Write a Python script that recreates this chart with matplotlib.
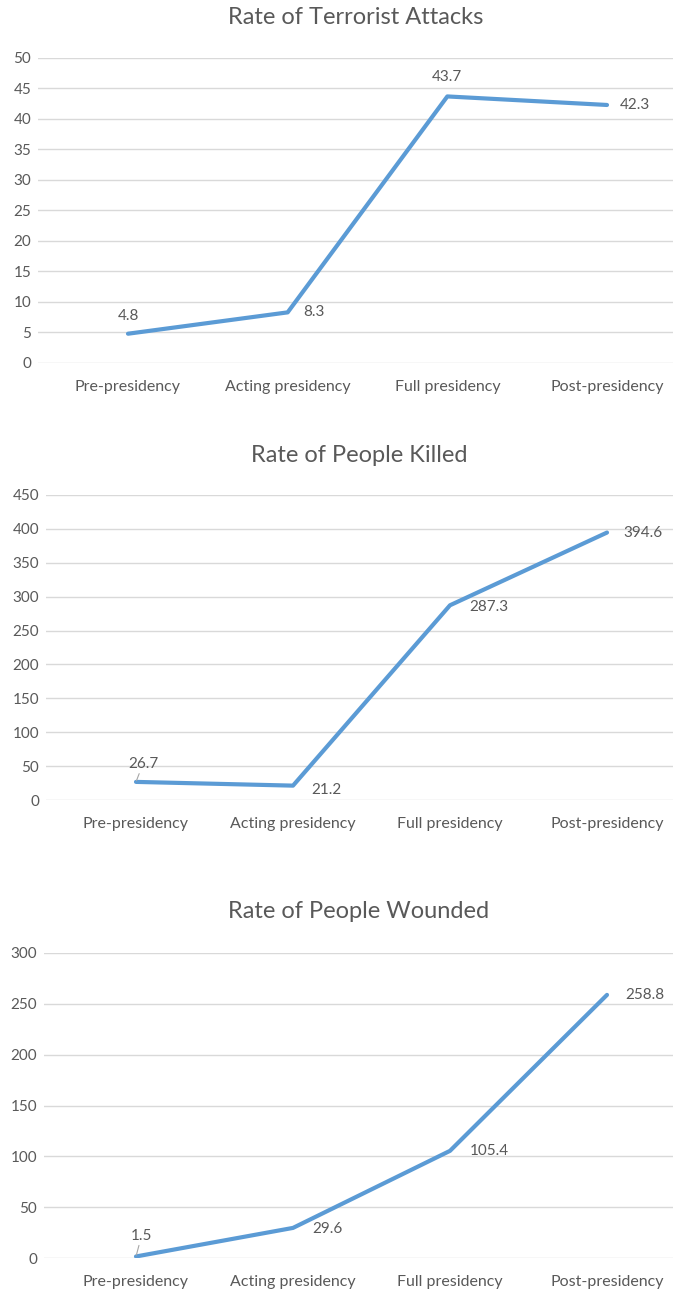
import matplotlib.pyplot as plt

plt.rcParams['font.family'] = ['Lato', 'DejaVu Sans']

categories = ["Pre-presidency", "Acting presidency", "Full presidency", "Post-presidency"]
titles = ["Rate of Terrorist Attacks", "Rate of People Killed", "Rate of People Wounded"]
attacks = [4.8, 8.3, 43.7, 42.3]
killed = [26.7, 21.2, 287.3, 394.6]
wounded = [1.5, 29.6, 105.4, 258.8]
y_max = [50, 450, 300]
y_step = [5, 50, 50]

series = [attacks, killed, wounded]

W, H = 673, 1291
LINE = "#5B9BD5"
GRID = "#D9D9D9"
TEXT = "#595959"

# pixel boxes: left, top, bottom, first point x, last point x, title y
boxes = [
    (38, 58, 363, 128, 607, 18),
    (46, 495, 800, 136, 607, 455),
    (44, 953, 1258, 136, 607, 912),
]

# label offsets in points (dx, dy), and whether a leader line is drawn
label_offsets = [
    [((0, 13), False), ((19, 0), False), ((0, 14), False), ((20, 0), False)],
    [((5, 13), True), ((24, -3), False), ((28, -1), False), ((26, 0), False)],
    [((4, 15), True), ((25, -1), False), ((28, 0), False), ((27, 0), False)],
]

fig = plt.figure(figsize=(W / 100, H / 100), dpi=100)

for i, vals in enumerate(series):
    left, top, bottom, x0, x3, ty = boxes[i]
    ax = fig.add_axes([left / W, 1 - bottom / H, (W - left) / W, (bottom - top) / H])
    scale = (x3 - x0) / 3
    ax.set_xlim(-(x0 - left) / scale, 3 + (W - x3) / scale)
    ax.set_ylim(0, y_max[i])
    xs = list(range(len(categories)))
    ax.plot(xs, vals, color=LINE, linewidth=3.0, solid_capstyle='round', zorder=3)
    ax.set_yticks(range(0, y_max[i] + 1, y_step[i]))
    ax.set_xticks(xs)
    ax.set_xticklabels(categories)
    ax.yaxis.grid(True, color=GRID, linewidth=1.0)
    ax.set_axisbelow(True)
    for s in ax.spines.values():
        s.set_visible(False)
    ax.tick_params(length=0, labelsize=11, labelcolor=TEXT)
    ax.tick_params(axis='x', labelsize=11.5, pad=12)
    ax.tick_params(axis='y', pad=5)
    ax.patch.set_alpha(0)
    for j, v in enumerate(vals):
        (dx, dy), leader = label_offsets[i][j]
        props = dict(arrowstyle='-', color='#A6A6A6', lw=0.8, shrinkA=0, shrinkB=1) if leader else None
        ax.annotate(f"{v}", (j, v), xytext=(dx, dy), textcoords='offset points',
                    ha='center', va='center', fontsize=11, color=TEXT,
                    arrowprops=props, annotation_clip=False)
    fig.text((left + W) / 2 / W, 1 - ty / H, titles[i], ha='center', va='center',
             fontsize=17, color=TEXT)

fig.savefig("out.png", dpi=100, facecolor='white')
